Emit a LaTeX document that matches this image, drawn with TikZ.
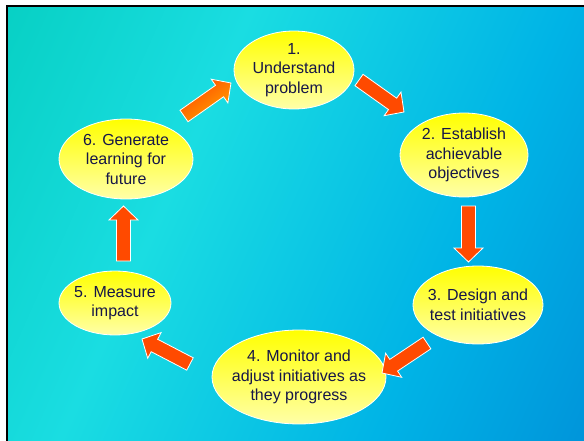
\documentclass[tikz,border=0pt]{standalone}
\usepackage{fontspec}
\setmainfont{Liberation Sans}
\usetikzlibrary{shapes.geometric,calc}

\definecolor{stepink}{HTML}{161648}
\definecolor{stepyellow}{HTML}{FFFF00}
\definecolor{steppale}{HTML}{FFFFA8}
\definecolor{arrowred}{HTML}{FF4A00}
\definecolor{arroworange}{HTML}{FFA400}
\definecolor{bgteal}{HTML}{00CBB8}
\definecolor{bgcyan}{HTML}{1ADDE2}
\definecolor{bgsky}{HTML}{00B4E6}
\definecolor{bgblue}{HTML}{0078D0}

\pgfdeclarehorizontalshading{backdrop}{100bp}{color(0bp)=(bgteal); color(8bp)=(bgteal); color(38bp)=(bgcyan); color(65bp)=(bgsky); color(100bp)=(bgblue)}

% fat arrow from #2 (tail) to #3 (tip)
\newcommand\blockarrow[3][]{%
  \coordinate (ba-m) at ($(#3)!14pt!(#2)$);
  \path [blockfill,#1] ($(#2)!7pt!90:(#3)$) -- ($(ba-m)!7pt!90:(#3)$) -- ($(ba-m)!14.5pt!90:(#3)$)
    -- (#3) -- ($(ba-m)!14.5pt!-90:(#3)$) -- ($(ba-m)!7pt!-90:(#3)$) -- ($(#2)!7pt!-90:(#3)$) -- cycle;}

\begin{document}
\begin{tikzpicture}[x=1pt,y=-1pt,
                    stepbox/.style={ellipse,draw=white,line width=0.8pt,inner sep=-25pt,
                                    top color=stepyellow,bottom color=steppale,
                                    text=stepink,align=center,font=\fontsize{16}{19.5}\selectfont},
                    blockfill/.style={fill=arrowred,draw=white,line width=0.8pt}
]

\useasboundingbox (0,0) rectangle (584,441);
\fill [white] (0,0) rectangle (584,441);
\shade [shading=backdrop,shading angle=-24] (7,6) rectangle (584,441);
\draw [line width=2.5pt] (7,441) -- (7,6) -- (584,6);
%
\node [stepbox, minimum width=120pt, minimum height=78pt] at (294,70) (und) {1.\\Understand\\problem};
\node [stepbox, minimum width=128pt, minimum height=84pt] at (464,155) (est) {2. Establish\\achievable\\objectives};
\node [stepbox, minimum width=130pt, minimum height=78pt] at (478,305) (des) {3. Design and\\test initiatives};
\node [stepbox, minimum width=174pt, minimum height=94pt] at (299,377) (mon) {4. Monitor and\\adjust initiatives as\\they progress};
\node [stepbox, minimum width=112pt, minimum height=64pt] at (115,303) (mea) {5. Measure\\impact};
\node [stepbox, minimum width=134pt, minimum height=80pt] at (126,159) (gen) {6. Generate\\learning for\\future};
%
\coordinate (und-t) at (359,80);    \coordinate (est-h) at (404,112);
\coordinate (est-t) at (468.5,206); \coordinate (des-h) at (468.5,262);
\coordinate (des-t) at (427,343);   \coordinate (mon-h) at (382,373);
\coordinate (mon-t) at (190,364);   \coordinate (mea-h) at (142,339);
\coordinate (mea-t) at (123.5,261); \coordinate (gen-h) at (123.5,206);
\coordinate (gen-t) at (184,116);   \coordinate (und-h) at (231,83);
%
\blockarrow{und-t}{est-h}
\blockarrow{est-t}{des-h}
\blockarrow{des-t}{mon-h}
\blockarrow{mon-t}{mea-h}
\blockarrow{mea-t}{gen-h}
\blockarrow[left color=arrowred,right color=arroworange,shading angle=37]{gen-t}{und-h}
\end{tikzpicture}
\end{document}
